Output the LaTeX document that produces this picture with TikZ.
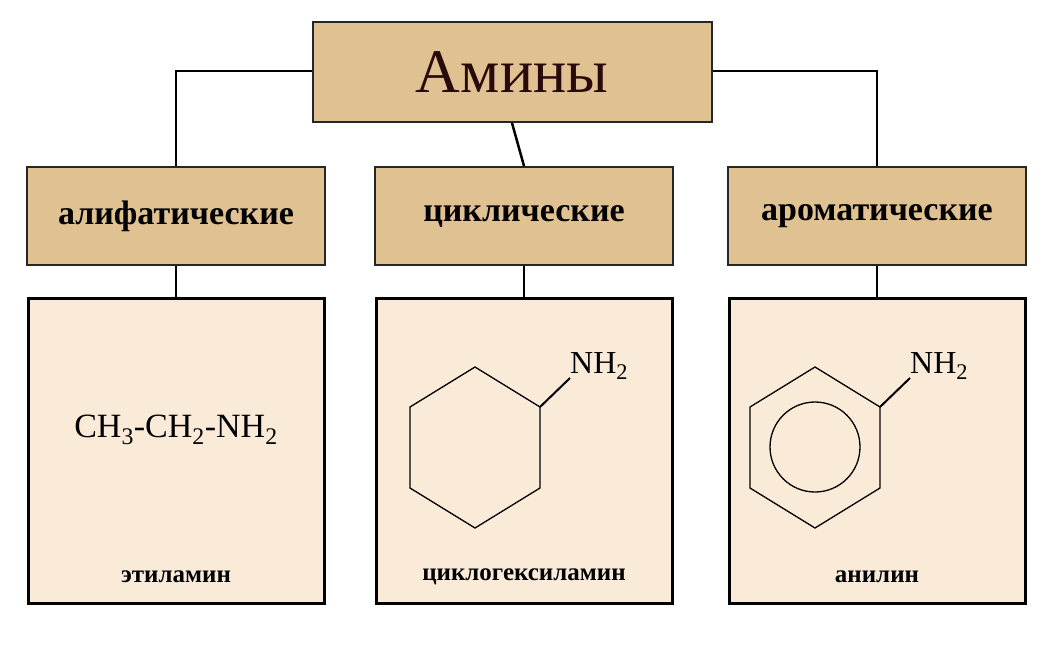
\documentclass[tikz,border=0pt]{standalone}
\usepackage{fontspec}
\setmainfont{Liberation Serif}
\begin{document}
\begin{tikzpicture}[x=1pt,y=-1pt,
  tan/.style={draw=black!85,line width=2pt,fill={rgb,255:red,224;green,193;blue,145}},
  pale/.style={draw=black,line width=3pt,fill={rgb,255:red,250;green,235;blue,217}},
  con/.style={line width=2.5pt,black},
  mol/.style={line width=1.3pt}]
\useasboundingbox (0,0) rectangle (1046,656);
\node[tan,minimum width=399pt,minimum height=100pt,font=\fontsize{62}{70}\selectfont,text={rgb,255:red,40;green,10;blue,10}] (top) at (512,72) {Амины};
\foreach \n/\x/\t in {a/176/алифатические,c/524/циклические,r/877/ароматические}{
  \node[tan,minimum width=298pt,minimum height=98pt,font=\fontsize{34}{40}\selectfont\bfseries] (\n) at (\x,216) {\t};
  \node[pale,minimum width=296pt,minimum height=305pt] (\n b) at (\x,451) {};
  \draw[con] (\n.south) -- (\n b.north);
}
\coordinate (la) at (176,71);
\coordinate (ra) at (877,71);
\draw[con] (top.west|-la) -- (la) -- (a.north);
\draw[con] (top.east|-ra) -- (ra) -- (r.north);
\draw[con] (top.south) -- (c.north);
\node[font=\fontsize{34}{40}\selectfont] (f1) at (176,430) {CH\textsubscript{3}-CH\textsubscript{2}-NH\textsubscript{2}};
\node[font=\fontsize{25}{30}\selectfont\bfseries] (l1) at (176,577) {этиламин};
\node[font=\fontsize{25}{30}\selectfont\bfseries] (l2) at (524,577) {циклогексиламин};
\node[font=\fontsize{25}{30}\selectfont\bfseries] (l3) at (877,577) {анилин};
% cyclohexane
\draw[mol] (475,367) -- (540,407) -- (540,488) -- (475,528) -- (410,488) -- (410,407) -- cycle;
\node[font=\fontsize{32}{36}\selectfont,anchor=west,inner sep=0pt] (n1) at (570,366) {NH\textsubscript{2}};
\draw[line width=2pt] (540,407) -- (n1.west|-0,378);
% benzene
\draw[mol] (815,367) -- (880,407) -- (880,488) -- (815,528) -- (750,488) -- (750,407) -- cycle;
\node[mol,draw,circle,minimum size=90pt,inner sep=0pt] (ring) at (815,447) {};
\node[font=\fontsize{32}{36}\selectfont,anchor=west,inner sep=0pt] (n2) at (910,366) {NH\textsubscript{2}};
\draw[line width=2pt] (880,407) -- (n2.west|-0,378);
\end{tikzpicture}
\end{document}
